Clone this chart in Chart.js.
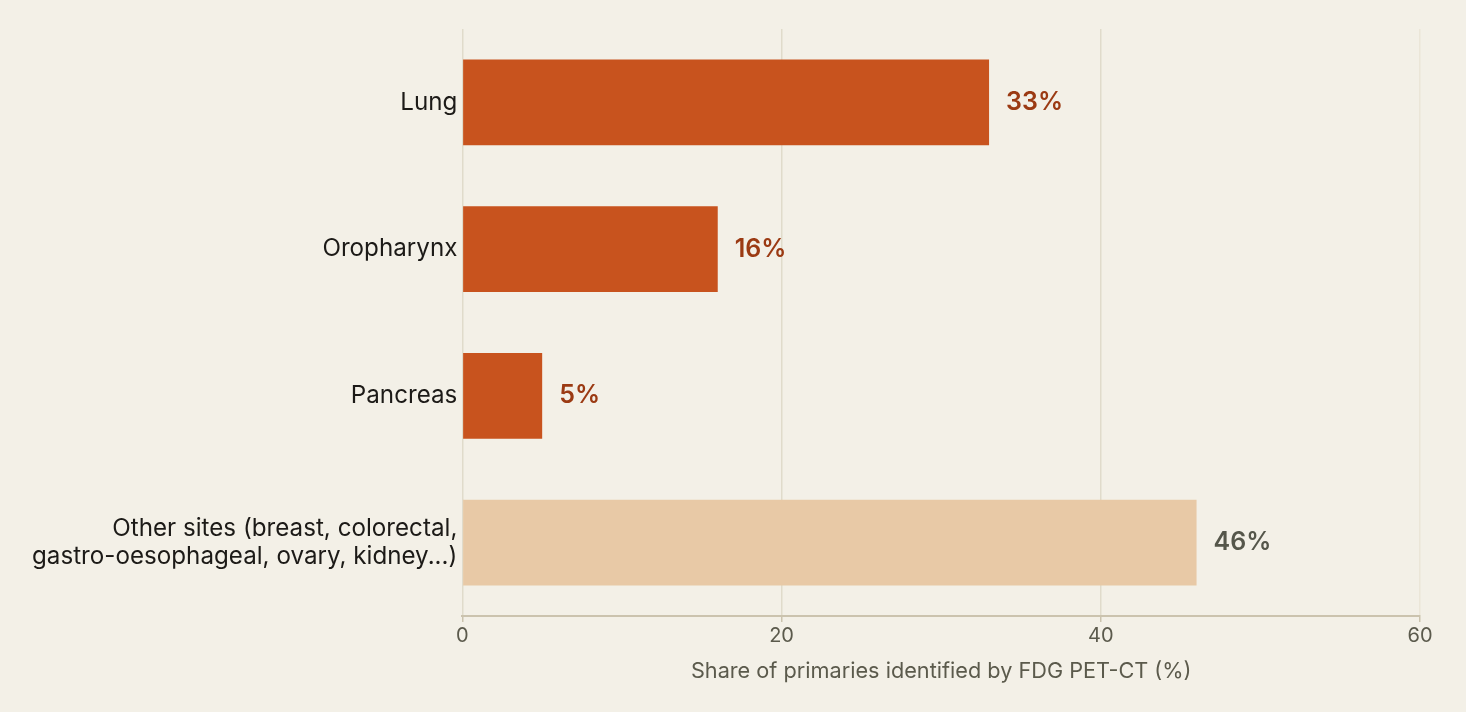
<!DOCTYPE html>
<html>
<head>
<meta charset="utf-8">
<script src="https://cdn.jsdelivr.net/npm/chart.js@4"></script>
<style>
    html, body { margin: 0; padding: 0; background: #f3f0e7; }
    #wrap { width: 1466px; height: 712px; }
</style>
</head>
<body>
<div id="wrap"><canvas id="chart"></canvas></div>
<script>
// Chart data
const sites = ["Lung", "Oropharynx", "Pancreas", ["Other sites (breast, colorectal,", "gastro-oesophageal, ovary, kidney...)"]];
const shares = [33, 16, 5, 46];
const xTicks = [0, 20, 40, 60];

// Colours per bar (last bar is the "other" group)
const barColors = ["#c8531e", "#c8531e", "#c8531e", "#e8c9a6"];
const valueColors = ["#9b3a13", "#9b3a13", "#9b3a13", "#55564a"];

const fontFamily = "Inter, 'Noto Sans', sans-serif";

// Draws the percentage next to each bar
const valueLabels = {
    id: "valueLabels",
    afterDatasetsDraw(chart) {
        const ctx = chart.ctx;
        const meta = chart.getDatasetMeta(0);
        ctx.save();
        ctx.font = "600 25px " + fontFamily;
        ctx.textBaseline = "middle";
        ctx.textAlign = "left";
        meta.data.forEach((bar, i) => {
            ctx.fillStyle = valueColors[i];
            ctx.fillText(shares[i] + "%", bar.x + 17, bar.y);
        });
        ctx.restore();
    },
};

new Chart(document.getElementById("chart"), {
    type: "bar",
    data: {
        labels: sites,
        datasets: [
            {
                data: shares,
                backgroundColor: barColors,
                borderWidth: 0,
                barPercentage: 0.585,
                categoryPercentage: 1,
            },
        ],
    },
    options: {
        indexAxis: "y",
        responsive: true,
        maintainAspectRatio: false,
        animation: false,
        layout: {
            padding: { top: 29, right: 46, bottom: 24, left: 27 },
        },
        plugins: {
            legend: { display: false },
            tooltip: { enabled: false },
        },
        scales: {
            x: {
                min: 0,
                max: 60,
                afterBuildTicks: axis => {
                    axis.ticks = xTicks.map(v => ({ value: v }));
                },
                grid: {
                    color: ctx => (ctx.tick && ctx.tick.value === 60 ? "#ebe6d8" : "#e0dbcb"),
                    lineWidth: 1.5,
                    drawTicks: true,
                    tickLength: 6,
                    tickColor: "#cbc3ae",
                    tickWidth: 1.5,
                },
                border: { display: true, color: "#cbc3ae", width: 2 },
                ticks: {
                    color: "#5b5a4c",
                    font: { family: fontFamily, size: 20 },
                    padding: 2,
                },
                title: {
                    display: true,
                    text: "Share of primaries identified by FDG PET-CT (%)",
                    color: "#5b5a4c",
                    font: { family: fontFamily, size: 21.7 },
                    padding: { top: 8 },
                },
            },
            y: {
                grid: { display: false, drawTicks: false },
                border: { display: false },
                ticks: {
                    color: "#1c1a17",
                    font: { family: fontFamily, size: 24.2, lineHeight: 1.13 },
                    padding: 5,
                },
                // let the layout padding alone set the plot's top and bottom
                afterFit: axis => {
                    axis.paddingTop = 0;
                    axis.paddingBottom = 0;
                },
            },
        },
    },
    plugins: [valueLabels],
});
</script>
</body>
</html>
